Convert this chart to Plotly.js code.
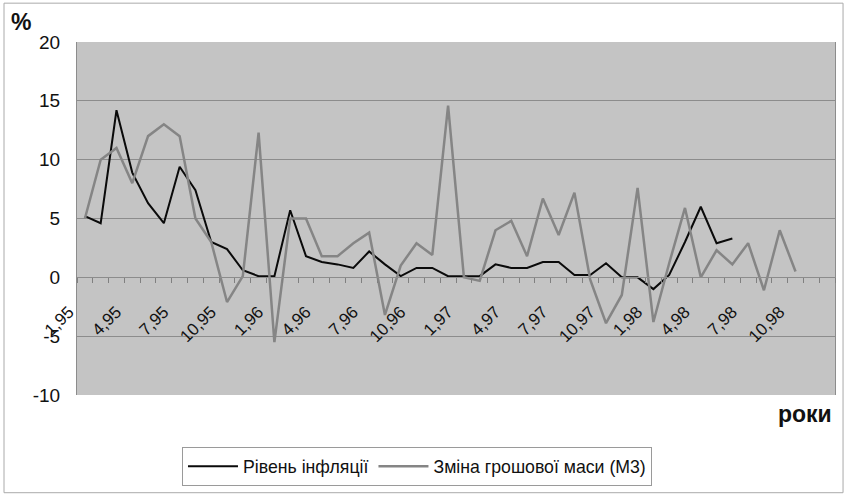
<!DOCTYPE html>
<html>
<head>
<meta charset="utf-8">
<script src="https://cdn.plot.ly/plotly-3.0.1.min.js"></script>
<style>
  html, body { margin: 0; padding: 0; background: #ffffff; }
  #chart { width: 846px; height: 496px; }
</style>
</head>
<body>
<div id="chart"></div>
<script>
// Month labels (month,year)
const categories = [
  "1,95","2,95","3,95","4,95","5,95","6,95","7,95","8,95","9,95","10,95","11,95","12,95",
  "1,96","2,96","3,96","4,96","5,96","6,96","7,96","8,96","9,96","10,96","11,96","12,96",
  "1,97","2,97","3,97","4,97","5,97","6,97","7,97","8,97","9,97","10,97","11,97","12,97",
  "1,98","2,98","3,98","4,98","5,98","6,98","7,98","8,98","9,98","10,98","11,98","12,98"
];

// Рівень інфляції, %
const inflation = [
  5.2, 4.6, 14.2, 8.9, 6.3, 4.6, 9.4, 7.4, 3.0, 2.4, 0.6, 0.1,
  0.1, 5.7, 1.8, 1.3, 1.1, 0.8, 2.2, 1.1, 0.1, 0.8, 0.8, 0.1,
  0.1, 0.1, 1.1, 0.8, 0.8, 1.3, 1.3, 0.2, 0.2, 1.2, 0.0, 0.0,
  -1.0, 0.2, 3.0, 6.0, 2.9, 3.3
];

// Зміна грошової маси (М3), %
const m3 = [
  5.0, 10.0, 11.0, 8.0, 12.0, 13.0, 12.0, 5.0, 3.0, -2.1, 0.1, 12.3,
  -5.5, 5.0, 5.0, 1.8, 1.8, 2.9, 3.8, -3.2, 1.0, 2.9, 1.9, 14.6,
  0.0, -0.3, 4.0, 4.8, 1.8, 6.7, 3.6, 7.2, -0.2, -3.9, -1.5, 7.6,
  -3.8, 1.2, 5.9, 0.0, 2.3, 1.1, 2.9, -1.1, 4.0, 0.5
];

const seriesNames = ["Рівень інфляції", "Зміна грошової маси (М3)"];
const yRange = [-10, 20];
const yTickVals = [-10, -5, 0, 5, 10, 15, 20];
const yTickText = ["-10", "-5", "0", "5", "10", "15", "20"];
const labelStep = 3;

const idx = (arr) => arr.map((_, i) => i);
// tick marks at category boundaries, labels every 3rd category
const tickvals = categories.map((_, i) => i - 0.5).concat([categories.length - 0.5]);
const ticktext = categories.map((c, i) => (i % labelStep === 0 ? c : "")).concat([""]);

const FONT = "Liberation Sans, Arial, sans-serif";

const data = [
  {
    type: "scatter", mode: "lines", name: seriesNames[0],
    x: idx(inflation), y: inflation,
    line: { color: "#0a0a0a", width: 2 }
  },
  {
    type: "scatter", mode: "lines", name: seriesNames[1],
    x: idx(m3), y: m3,
    line: { color: "#858585", width: 2.5 }
  }
];

const layout = {
  width: 846, height: 496,
  margin: { l: 77, r: 11, t: 42, b: 100 },
  paper_bgcolor: "#ffffff",
  plot_bgcolor: "#c4c4c4",
  font: { family: FONT, color: "#111111" },
  showlegend: true,
  legend: {
    orientation: "h",
    x: 0.1385, y: -0.145, xanchor: "left", yanchor: "top",
    bordercolor: "#9a9a9a", borderwidth: 1, bgcolor: "#ffffff",
    itemwidth: 50,
    font: { size: 17.7, family: FONT, color: "#111111" }
  },
  xaxis: {
    range: [-0.5, categories.length - 0.5],
    tickmode: "array", tickvals: tickvals, ticktext: ticktext,
    tickangle: -45,
    ticks: "outside", ticklen: 5, tickcolor: "#808080", tickwidth: 1,
    showline: true, linecolor: "#8c8c8c", linewidth: 1,
    anchor: "free",
    position: (0 - yRange[0]) / (yRange[1] - yRange[0]),
    showgrid: false, zeroline: false,
    tickfont: { size: 17, family: FONT, color: "#111111" },
    ticklabelstandoff: 12,
    ticklabelshift: -8
  },
  yaxis: {
    range: yRange, tickmode: "array", tickvals: yTickVals, ticktext: yTickText,
    showgrid: true, gridcolor: "#8c8c8c", gridwidth: 1,
    zeroline: false,
    showline: true, linecolor: "#8c8c8c", linewidth: 1, mirror: true,
    ticks: "",
    tickfont: { size: 19, family: FONT, color: "#111111" },
    ticklabelstandoff: 12
  },
  annotations: [
    { text: "<b>%</b>", xref: "paper", yref: "paper", x: -0.09, y: 1.058,
      xanchor: "left", yanchor: "middle", showarrow: false,
      font: { size: 23, family: FONT, color: "#111111" } },
    { text: "<b>роки</b>", xref: "paper", yref: "paper", x: 0.999, y: -0.054,
      xanchor: "right", yanchor: "middle", showarrow: false,
      font: { size: 23, family: FONT, color: "#111111" } }
  ],
  shapes: [
    { type: "rect", xref: "paper", yref: "paper",
      x0: -0.0963, x1: 1.0106, y0: -0.2768, y1: 1.110,
      line: { color: "#aaaaaa", width: 1 }, fillcolor: "rgba(0,0,0,0)", layer: "below" }
  ]
};

Plotly.newPlot("chart", data, layout, { displayModeBar: false, staticPlot: true });
</script>
</body>
</html>
